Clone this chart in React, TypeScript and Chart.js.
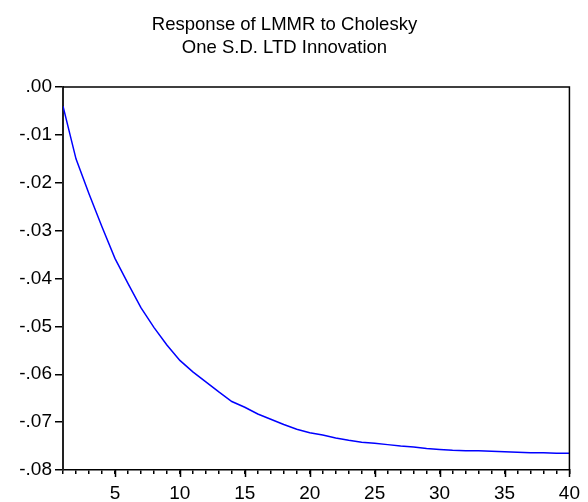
import React, { useEffect, useRef } from "react";
import { Chart, registerables } from "chart.js";

Chart.register(...registerables);

const titleLines = ["Response of LMMR to Cholesky", "One S.D. LTD Innovation"];

const periods = [
  1, 2, 3, 4, 5, 6, 7, 8, 9, 10,
  11, 12, 13, 14, 15, 16, 17, 18, 19, 20,
  21, 22, 23, 24, 25, 26, 27, 28, 29, 30,
  31, 32, 33, 34, 35, 36, 37, 38, 39, 40,
];

const response = [
  -0.0040, -0.0150, -0.0223, -0.0292, -0.0358, -0.0410, -0.0461, -0.0502, -0.0539, -0.0571,
  -0.0595, -0.0616, -0.0637, -0.0657, -0.0669, -0.0683, -0.0694, -0.0705, -0.0715, -0.0722,
  -0.0727, -0.0733, -0.0738, -0.0742, -0.0744, -0.0747, -0.0750, -0.0752, -0.0755, -0.0757,
  -0.0759, -0.0760, -0.0760, -0.0761, -0.0762, -0.0763, -0.0764, -0.0764, -0.0765, -0.0765,
];

const yTickValues = [0, -0.01, -0.02, -0.03, -0.04, -0.05, -0.06, -0.07, -0.08];
const xLabelStep = 5;

const FONT = "'Liberation Sans', Arial, Helvetica, sans-serif";

function fmtY(v: number): string {
  const n = Math.round(Math.abs(v) * 100);
  const s = "." + String(n).padStart(2, "0");
  return v < -1e-9 ? "-" + s : s;
}

const framePlugin = {
  id: "frame",
  afterDraw(chart: any) {
    const { ctx, chartArea } = chart;
    const { left, right, top, bottom } = chartArea;
    const xs = chart.scales.x;
    ctx.save();
    ctx.strokeStyle = "#000";
    ctx.lineWidth = 1.5;
    ctx.beginPath();
    ctx.moveTo(left, top);
    ctx.lineTo(right, top);
    ctx.lineTo(right, bottom);
    ctx.stroke();
    ctx.lineWidth = 1.5;
    ctx.beginPath();
    for (const p of periods) {
      if (p % xLabelStep === 0) {
        const px = Math.round(xs.getPixelForValue(p)) + 0.5;
        ctx.moveTo(px, bottom);
        ctx.lineTo(px, bottom + 7);
      }
    }
    ctx.stroke();
    ctx.fillStyle = "#000";
    ctx.font = `18.5px ${FONT}`;
    ctx.textAlign = "center";
    ctx.textBaseline = "middle";
    ctx.fillText(titleLines[0], 284.5, 25);
    ctx.fillText(titleLines[1], 284.5, 48);
    ctx.restore();
  },
};

export default function App() {
  const ref = useRef<HTMLCanvasElement | null>(null);

  useEffect(() => {
    if (!ref.current) return;
    const chart = new Chart(ref.current, {
      type: "line",
      data: {
        datasets: [
          {
            data: periods.map((p, i) => ({ x: p, y: response[i] })),
            borderColor: "#0000ff",
            borderWidth: 1.5,
            pointRadius: 0,
            tension: 0,
            fill: false,
          },
        ],
      },
      options: {
        animation: false,
        responsive: false,
        devicePixelRatio: 1,
        layout: { padding: { top: 87, right: 12, bottom: 0, left: 0 } },
        plugins: {
          legend: { display: false },
          title: { display: false },
          tooltip: { enabled: false },
        },
        scales: {
          x: {
            type: "linear",
            min: 1,
            max: 40,
            afterFit: (s: any) => {
              s.height = 32;
            },
            afterBuildTicks: (s: any) => {
              s.ticks = periods.map((p) => ({ value: p }));
            },
            ticks: {
              autoSkip: false,
              maxRotation: 0,
              padding: 8,
              color: "#000",
              font: { family: FONT, size: 19 },
              callback: (v: any) => (Number(v) % xLabelStep === 0 ? String(v) : ""),
            },
            grid: {
              drawOnChartArea: false,
              drawTicks: true,
              tickLength: 4,
              color: "#000",
              lineWidth: 1.5,
            },
            border: { display: true, color: "#000", width: 1.5 },
          },
          y: {
            type: "linear",
            min: -0.08,
            max: 0,
            afterFit: (s: any) => {
              s.width = 63;
            },
            afterBuildTicks: (s: any) => {
              s.ticks = yTickValues.map((v) => ({ value: v }));
            },
            ticks: {
              autoSkip: false,
              padding: 3,
              color: "#000",
              font: { family: FONT, size: 19 },
              callback: (v: any) => fmtY(Number(v)),
            },
            grid: {
              drawOnChartArea: false,
              drawTicks: true,
              tickLength: 8,
              color: "#000",
              lineWidth: 1.5,
            },
            border: { display: true, color: "#222", width: 2 },
          },
        },
      },
      plugins: [framePlugin],
    });
    return () => chart.destroy();
  }, []);

  return (
    <div style={{ position: "fixed", left: 0, top: 0, width: 588, height: 502, background: "#fff" }}>
      <canvas ref={ref} width={588} height={502} style={{ width: 588, height: 502 }} />
    </div>
  );
}
